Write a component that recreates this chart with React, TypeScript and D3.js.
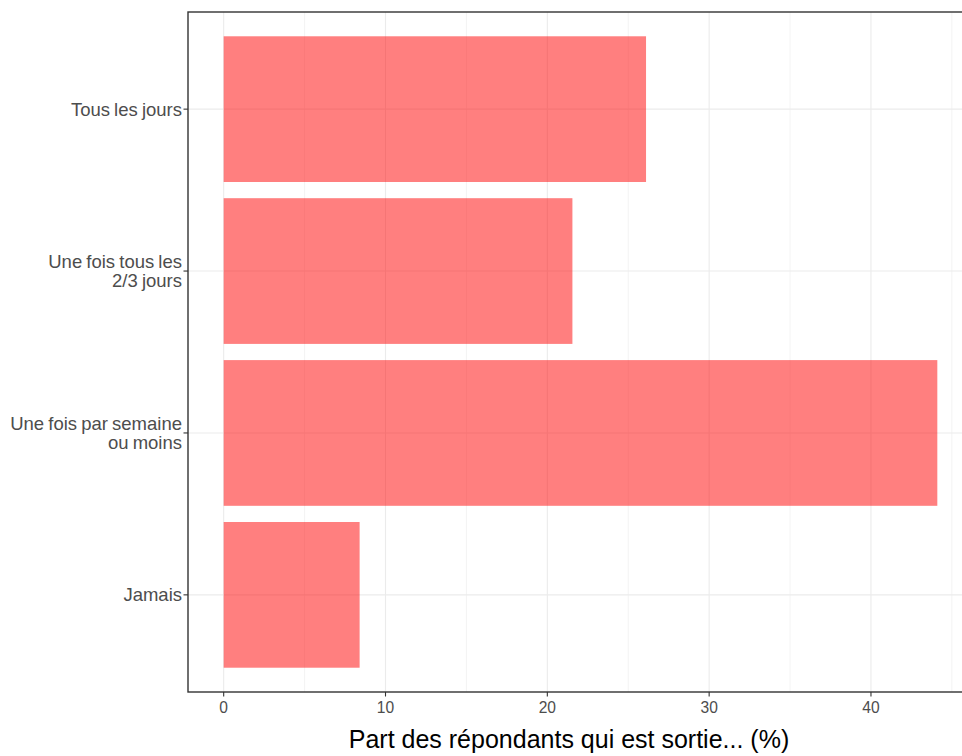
import React from "react";
import * as d3 from "d3";

const categories = ["Tous les jours", "Une fois tous les\n2/3 jours", "Une fois par semaine\nou moins", "Jamais"];
const values = [26.1, 21.55, 44.1, 8.4];
const xTicks = [0, 10, 20, 30, 40];
const xMinor = [5, 15, 25, 35, 45];
const xTitle = "Part des répondants qui est sortie... (%)";

const W = 962, H = 756;
const panel = { left: 188, right: 973, top: 12, bottom: 692 };

export default function App() {
  const maxV = d3.max(values) as number;
  const ex = maxV * 0.05;
  const x = d3.scaleLinear().domain([-ex, maxV + ex]).range([panel.left, panel.right]);
  const y = d3.scaleBand<string>().domain(categories).range([panel.top, panel.bottom]).paddingInner(0.1).paddingOuter(0.15);
  const grid = "#EBEBEB";
  const font = "'Liberation Sans', Arial, sans-serif";
  return (
    <svg width={W} height={H} style={{ position: "absolute", left: 0, top: 0, display: "block", background: "#fff" }}>
      <defs>
        <clipPath id="pc"><rect x={panel.left} y={panel.top} width={panel.right - panel.left} height={panel.bottom - panel.top} /></clipPath>
      </defs>
      <g clipPath="url(#pc)">
        {xMinor.map((t) => (
          <line key={"m" + t} x1={x(t)} x2={x(t)} y1={panel.top} y2={panel.bottom} stroke={grid} strokeWidth={0.6} />
        ))}
        {xTicks.map((t) => (
          <line key={"M" + t} x1={x(t)} x2={x(t)} y1={panel.top} y2={panel.bottom} stroke={grid} strokeWidth={1.1} />
        ))}
        {categories.map((c) => (
          <line key={"h" + c} x1={panel.left} x2={panel.right} y1={(y(c) as number) + y.bandwidth() / 2} y2={(y(c) as number) + y.bandwidth() / 2} stroke={grid} strokeWidth={1.1} />
        ))}
        {categories.map((c, i) => (
          <rect key={"b" + c} x={x(0)} y={y(c)} width={x(values[i]) - x(0)} height={y.bandwidth()} fill="#FF0000" fillOpacity={0.5} />
        ))}
      </g>
      <rect x={panel.left} y={panel.top} width={panel.right - panel.left} height={panel.bottom - panel.top} fill="none" stroke="#333333" strokeWidth={1.4} />
      {categories.map((c) => {
        const cy = (y(c) as number) + y.bandwidth() / 2;
        const lines = c.split("\n");
        const lh = 19;
        const base = cy + 6.5 - ((lines.length - 1) * lh) / 2;
        return (
          <g key={"yl" + c}>
            <line x1={panel.left - 4.5} x2={panel.left} y1={cy} y2={cy} stroke="#333333" strokeWidth={1.1} />
            <text x={182} y={base} textAnchor="end" fontFamily={font} fontSize={18.5} fill="#4D4D4D" style={{ wordSpacing: "-1px" }}>
              {lines.map((l, k) => (
                <tspan key={k} x={182} y={base + k * lh}>{l}</tspan>
              ))}
            </text>
          </g>
        );
      })}
      {xTicks.map((t) => (
        <g key={"xt" + t}>
          <line x1={x(t)} x2={x(t)} y1={panel.bottom} y2={panel.bottom + 4.5} stroke="#333333" strokeWidth={1.1} />
          <text x={x(t)} y={713} textAnchor="middle" fontFamily={font} fontSize={15.6} fill="#4D4D4D">{t}</text>
        </g>
      ))}
      <text x={569} y={748} textAnchor="middle" fontFamily={font} fontSize={25} fill="#000">{xTitle}</text>
    </svg>
  );
}
